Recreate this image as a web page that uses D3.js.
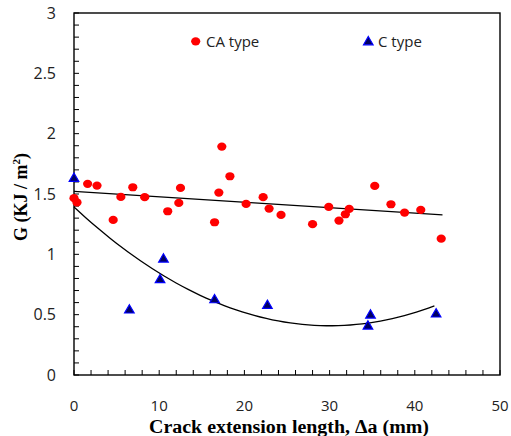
<!DOCTYPE html>
<html>
<head>
<meta charset="utf-8">
<script src="https://cdn.jsdelivr.net/npm/d3@7"></script>
<style>
  body { margin: 0; background: #fff; }
  svg { display: block; }
</style>
</head>
<body>
<div id="chart"></div>
<script>
// CA type points
const caX = [0, 0.35, 1.6, 2.7, 4.6, 5.5, 6.9, 8.3, 11.0, 12.3, 12.5, 16.5, 17.0, 17.35, 18.3,
    20.2, 22.2, 22.9, 24.3, 28.0, 29.9, 31.1, 31.85, 32.3, 35.3, 37.2, 38.8, 40.7, 43.1];
const caG = [1.465, 1.43, 1.584, 1.57, 1.285, 1.476, 1.556, 1.474, 1.357, 1.426, 1.55, 1.266, 1.512, 1.893, 1.647,
    1.418, 1.474, 1.379, 1.327, 1.25, 1.393, 1.28, 1.332, 1.376, 1.567, 1.415, 1.346, 1.368, 1.13];
// C type points
const cX = [0, 6.5, 10.1, 10.5, 16.5, 22.7, 34.5, 34.8, 42.5];
const cG = [1.636, 0.545, 0.796, 0.967, 0.63, 0.583, 0.412, 0.503, 0.512];

const xTicks = [0, 10, 20, 30, 40, 50];
const yTicks = [0, 0.5, 1, 1.5, 2, 2.5, 3];

const W = 511, H = 436;
const margin = {top: 13, right: 11, bottom: 61, left: 74};

const svg = d3.select("#chart").append("svg")
    .attr("width", W)
    .attr("height", H);

const x = d3.scaleLinear().domain([0, 50]).range([margin.left, W - margin.right]);
const y = d3.scaleLinear().domain([0, 3]).range([H - margin.bottom, margin.top]);

// inward ticks
const minorX = d3.range(0, 50.01, 2);
const minorY = d3.range(0, 3.001, 0.1);
svg.append("g").selectAll("line").data(minorX).enter().append("line")
    .attr("x1", d => x(d)).attr("x2", d => x(d))
    .attr("y1", y(0)).attr("y2", y(0) - 5)
    .attr("stroke", "#000").attr("stroke-width", 1);
svg.append("g").selectAll("line").data(minorY).enter().append("line")
    .attr("x1", x(0)).attr("x2", x(0) + 5)
    .attr("y1", d => y(d)).attr("y2", d => y(d))
    .attr("stroke", "#000").attr("stroke-width", 1);

// frame
svg.append("rect")
    .attr("x", x(0)).attr("y", y(3))
    .attr("width", x(50) - x(0)).attr("height", y(0) - y(3))
    .attr("fill", "none").attr("stroke", "#000").attr("stroke-width", 1.4);

// tick labels
svg.append("g").selectAll("text").data(yTicks).enter().append("text")
    .attr("x", x(0) - 18).attr("y", d => y(d))
    .attr("dy", "0.35em")
    .attr("text-anchor", "end")
    .attr("font-family", "Open Sans")
    .attr("font-size", 16)
    .attr("fill", "#222")
    .text(d => d);
svg.append("g").selectAll("text").data(xTicks).enter().append("text")
    .attr("x", d => x(d)).attr("y", y(0) + 36)
    .attr("text-anchor", "middle")
    .attr("font-family", "Open Sans")
    .attr("font-size", 15)
    .attr("fill", "#222")
    .text(d => d);

// axis titles
svg.append("text")
    .attr("x", (x(0) + x(50)) / 2 + 2).attr("y", 433)
    .attr("text-anchor", "middle")
    .attr("font-family", "Liberation Serif")
    .attr("font-weight", "bold")
    .attr("font-size", 18)
    .attr("textLength", 280)
    .attr("lengthAdjust", "spacingAndGlyphs")
    .text("Crack extension length, \u0394a (mm)");

const yTitle = svg.append("text")
    .attr("transform", "translate(27," + ((y(0) + y(3)) / 2 + 3) + ") rotate(-90)")
    .attr("text-anchor", "middle")
    .attr("font-family", "Liberation Serif")
    .attr("font-weight", "bold")
    .attr("font-size", 18);
yTitle.append("tspan").text("G (KJ / m");
yTitle.append("tspan").attr("font-size", 11).attr("dy", -7).text("2");
yTitle.append("tspan").attr("dy", 7).text(")");

// trend lines (least squares)
function linFit(xs, ys) {
    const n = xs.length, mx = d3.mean(xs), my = d3.mean(ys);
    let sxy = 0, sxx = 0;
    for (let i = 0; i < n; i++) { sxy += (xs[i] - mx) * (ys[i] - my); sxx += (xs[i] - mx) ** 2; }
    const b = sxy / sxx;
    return v => my - b * mx + b * v;
}
function quadFit(xs, ys) {
    let S = [0, 0, 0, 0, 0], T = [0, 0, 0];
    xs.forEach((v, i) => {
        for (let k = 0; k < 5; k++) S[k] += v ** k;
        for (let k = 0; k < 3; k++) T[k] += ys[i] * v ** k;
    });
    const M = [[S[0], S[1], S[2], T[0]], [S[1], S[2], S[3], T[1]], [S[2], S[3], S[4], T[2]]];
    for (let i = 0; i < 3; i++) {
        for (let j = i + 1; j < 3; j++) {
            const f = M[j][i] / M[i][i];
            for (let k = i; k < 4; k++) M[j][k] -= f * M[i][k];
        }
    }
    const c = [0, 0, 0];
    for (let i = 2; i >= 0; i--) {
        let s = M[i][3];
        for (let k = i + 1; k < 3; k++) s -= M[i][k] * c[k];
        c[i] = s / M[i][i];
    }
    return v => c[0] + c[1] * v + c[2] * v * v;
}

const line = d3.line().x(d => x(d[0])).y(d => y(d[1]));
const caFit = linFit(caX, caG);
const caMax = d3.max(caX) + 0.15;
svg.append("path")
    .datum([[0, caFit(0)], [caMax, caFit(caMax)]])
    .attr("d", line)
    .attr("fill", "none").attr("stroke", "#000").attr("stroke-width", 1.3);

const cFit = quadFit(cX, cG);
const cMax = d3.max(cX) - 0.2;
svg.append("path")
    .datum(d3.range(0, cMax + 0.001, cMax / 60).map(v => [v, cFit(v)]))
    .attr("d", line)
    .attr("fill", "none").attr("stroke", "#000").attr("stroke-width", 1.3);

// points
svg.append("g").selectAll("ellipse").data(caX).enter().append("ellipse")
    .attr("cx", (d, i) => x(d)).attr("cy", (d, i) => y(caG[i]))
    .attr("rx", 4.6).attr("ry", 4.1)
    .attr("fill", "#ff0000");

const tri = d3.symbol().type(d3.symbolTriangle).size(40);
svg.append("g").selectAll("path").data(cX).enter().append("path")
    .attr("transform", (d, i) => "translate(" + x(d) + "," + (y(cG[i]) + 1) + ")")
    .attr("d", tri)
    .attr("fill", "#000060")
    .attr("stroke", "#0000ff").attr("stroke-width", 1.2);

// legend
svg.append("ellipse")
    .attr("cx", 195.7).attr("cy", 41.3).attr("rx", 4.6).attr("ry", 4.1)
    .attr("fill", "#ff0000");
svg.append("text")
    .attr("x", 206).attr("y", 46.5)
    .attr("font-family", "Open Sans").attr("font-size", 15).attr("fill", "#222")
    .text("CA type");
svg.append("path")
    .attr("transform", "translate(368.3,42)")
    .attr("d", tri)
    .attr("fill", "#000060")
    .attr("stroke", "#0000ff").attr("stroke-width", 1.2);
svg.append("text")
    .attr("x", 378).attr("y", 46.5)
    .attr("font-family", "Open Sans").attr("font-size", 15).attr("fill", "#222")
    .text("C type");
</script>
</body>
</html>
